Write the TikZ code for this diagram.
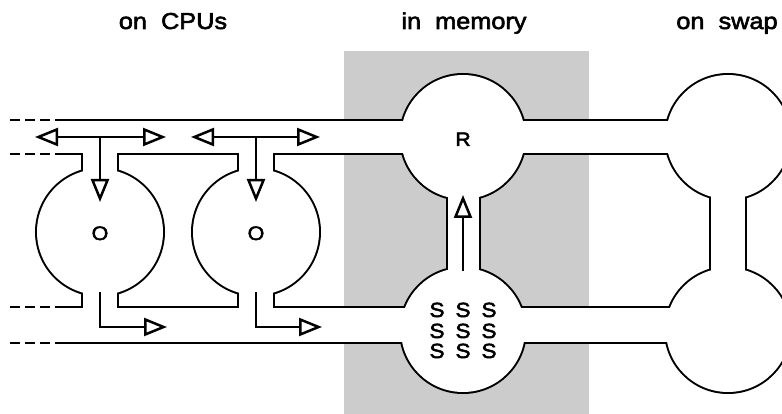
\documentclass[tikz,border=0pt]{standalone}
\usepackage{fontspec}
\setmainfont{Liberation Sans}[FakeStretch=1.1,FakeBold=2.5]
\usetikzlibrary{arrows.meta}
\definecolor{memgray}{gray}{0.8}
\newcommand\tubeparts[1]{%
  \path[#1] (-20,121) rectangle (800,153);
  \path[#1] (-20,308) rectangle (800,342);
  \path[#1] (83,140) rectangle (117,320);
  \path[#1] (100,232) circle[radius=63];
  \path[#1] (239,140) rectangle (273,320);
  \path[#1] (256,232) circle[radius=63];
  \path[#1] (447.5,140) rectangle (478.5,320);
  \path[#1] (463,137) circle[radius=62];
  \path[#1] (463,330) circle[radius=62];
  \path[#1] (711,140) rectangle (745,320);
  \path[#1] (728,137) circle[radius=62];
  \path[#1] (728,330) circle[radius=62];
}
\begin{document}
\begin{tikzpicture}[x=1pt,y=-1pt,
  wall/.style={draw=black,line width=4pt},
  hole/.style={fill=white},
  dashwall/.style={draw=black,line width=2pt,dash pattern=on 10pt off 5pt},
  otip/.tip={Triangle[open,length=23pt,width=18pt,line width=2.5pt]},
  flow/.style={line width=1.1pt,-otip},
  twoway/.style={line width=1.1pt,otip-otip},
  lbl/.style={anchor=base,inner sep=0pt,font=\fontsize{23}{26}\selectfont},
  ltr/.style={anchor=base,inner sep=0pt,font=\fontsize{19.5}{21}\selectfont},
  sltr/.style={anchor=base,inner sep=0pt,font=\fontsize{20.5}{22}\selectfont}]
\useasboundingbox (0,0) rectangle (782,414);
\begin{scope}
\clip (0,0) rectangle (782,414);
\fill[memgray] (344,51) rectangle (589,420);
\tubeparts{wall}
\tubeparts{hole}
\fill[white] (-5,110) rectangle (58,165);
\fill[white] (-5,296) rectangle (58,355);
\end{scope}
% dashed ends of the channels
\coordinate (d1a) at (10,120); \coordinate (d1b) at (58,120);
\coordinate (d2a) at (10,154); \coordinate (d2b) at (58,154);
\coordinate (d3a) at (10,307); \coordinate (d3b) at (58,307);
\coordinate (d4a) at (10,343); \coordinate (d4b) at (58,343);
\draw[dashwall] (d1a) -- (d1b);
\draw[dashwall] (d2a) -- (d2b);
\draw[dashwall] (d3a) -- (d3b);
\draw[dashwall] (d4a) -- (d4b);
% arrows, CPU 1
\coordinate (a1L) at (35,137); \coordinate (a1R) at (166,137);
\coordinate (a1J) at (100,137); \coordinate (a1D) at (100,202);
\coordinate (a1B) at (100,292); \coordinate (a1K) at (100,327);
\coordinate (a1E) at (167,327);
\draw[twoway] (a1L) -- (a1R);
\draw[flow] (a1J) -- (a1D);
\draw[flow] (a1B) -- (a1K) -- (a1E);
% arrows, CPU 2
\coordinate (a2L) at (191,137); \coordinate (a2R) at (320,137);
\coordinate (a2J) at (256,137); \coordinate (a2D) at (256,202);
\coordinate (a2B) at (256,292); \coordinate (a2K) at (256,327);
\coordinate (a2E) at (322,327);
\draw[twoway] (a2L) -- (a2R);
\draw[flow] (a2J) -- (a2D);
\draw[flow] (a2B) -- (a2K) -- (a2E);
% arrow in memory
\coordinate (mS) at (463,271); \coordinate (mR) at (463,195);
\draw[flow] (mS) -- (mR);
% labels
\node[lbl] (cpus) at (173,29) {on~~CPUs};
\node[lbl] (mem) at (464,29) {in~~memory};
\node[lbl] (swap) at (727,29) {on~~swap};
\node[ltr] (o1) at (100,240) {O};
\node[ltr] (o2) at (256,240) {O};
\node[ltr] (r) at (463,146) {R};
\foreach \row/\yy in {1/317,2/338,3/358}{
  \foreach \col/\xx in {1/437,2/463,3/489}{
    \node[sltr] (s\row\col) at (\xx,\yy) {S};
  }
}
\end{tikzpicture}
\end{document}
